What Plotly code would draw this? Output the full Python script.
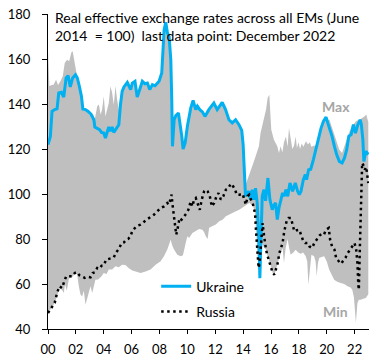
import plotly.graph_objects as go

# ---------------- data (decimal years) ----------------
ukr_t = [2000.00, 2000.17, 2000.29, 2000.48, 2000.65, 2000.77, 2000.96, 2001.13, 2001.30, 2001.44,
         2001.60, 2001.77, 2001.97, 2002.10, 2002.25, 2002.40, 2002.50, 2002.69, 2002.88, 2003.05,
         2003.17, 2003.29, 2003.36, 2003.53, 2003.70, 2003.84, 2004.00, 2004.12, 2004.24, 2004.36,
         2004.48, 2004.60, 2004.72, 2004.89, 2005.08, 2005.20, 2005.32, 2005.45, 2005.69, 2005.93,
         2006.05, 2006.24, 2006.40, 2006.58, 2006.77, 2006.96, 2007.13, 2007.30, 2007.49, 2007.68,
         2007.85, 2007.97, 2008.16, 2008.33, 2008.45, 2008.57, 2008.69, 2008.81, 2008.88, 2008.93,
         2009.05, 2009.17, 2009.36, 2009.45, 2009.60, 2009.69, 2009.84, 2010.00, 2010.12, 2010.24,
         2010.41, 2010.60, 2010.72, 2010.89, 2011.08, 2011.26, 2011.54, 2011.90, 2012.14, 2012.50,
         2012.74, 2012.98, 2013.22, 2013.46, 2013.70, 2013.90, 2014.00, 2014.08, 2014.17, 2014.29,
         2014.41, 2014.53, 2014.65, 2014.77, 2014.89, 2015.01, 2015.13, 2015.20, 2015.37, 2015.49,
         2015.61, 2015.78, 2015.92, 2016.09, 2016.21, 2016.33, 2016.45, 2016.57, 2016.69, 2016.83,
         2016.95, 2017.07, 2017.20, 2017.36, 2017.55, 2017.74, 2017.91, 2018.03, 2018.15, 2018.32,
         2018.46, 2018.55, 2018.70, 2018.85, 2019.04, 2019.23, 2019.42, 2019.59, 2019.76, 2019.95,
         2020.07, 2020.19, 2020.38, 2020.55, 2020.71, 2020.90, 2021.10, 2021.27, 2021.43, 2021.58,
         2021.75, 2021.91, 2022.06, 2022.23, 2022.39, 2022.48, 2022.59, 2022.66, 2022.80, 2022.98]
ukr_v = [122.0, 125.6, 136.7, 137.5, 137.8, 144.9, 145.2, 143.1, 151.6, 152.6,
         147.6, 151.6, 153.0, 151.6, 147.9, 143.4, 137.8, 137.5, 136.7, 135.7,
         134.5, 133.0, 129.8, 129.3, 128.6, 127.4, 127.1, 124.9, 127.9, 129.8,
         127.9, 129.8, 127.4, 129.3, 130.8, 139.7, 145.6, 147.6, 149.6, 146.4,
         149.3, 150.1, 143.1, 146.4, 150.1, 149.0, 149.3, 146.4, 148.6, 148.1,
         149.6, 150.1, 153.8, 173.0, 176.3, 171.6, 169.8, 159.7, 141.9, 121.2,
         133.0, 134.8, 136.0, 132.3, 125.6, 120.0, 122.7, 130.1, 134.5, 138.2,
         141.6, 137.5, 139.0, 137.5, 136.5, 134.5, 137.5, 140.4, 137.5, 140.7,
         137.5, 133.0, 131.6, 133.0, 130.8, 128.3, 122.0, 110.0, 98.9, 100.5,
         101.2, 97.5, 101.9, 97.5, 102.6, 96.0, 79.7, 62.6, 99.0, 101.9,
         97.0, 107.1, 97.5, 93.0, 95.0, 96.0, 88.6, 93.8, 96.7, 100.5,
         99.0, 101.9, 99.0, 104.9, 101.2, 104.9, 101.2, 99.7, 101.2, 106.4,
         108.6, 106.4, 110.8, 111.0, 115.3, 120.4, 124.9, 129.3, 132.3, 134.2,
         131.6, 129.5, 125.6, 121.2, 117.5, 114.5, 113.8, 116.0, 119.7, 125.6,
         126.4, 130.8, 127.1, 130.8, 133.0, 131.0, 124.1, 114.5, 119.0, 117.5]

rus_t = [2000.00, 2000.24, 2000.48, 2000.65, 2000.82, 2001.00, 2001.13, 2001.30, 2001.50, 2001.73,
         2001.92, 2002.09, 2002.25, 2002.45, 2002.64, 2002.85, 2003.05, 2003.21, 2003.36, 2003.53,
         2003.69, 2003.84, 2004.00, 2004.17, 2004.36, 2004.56, 2004.72, 2004.89, 2005.08, 2005.28,
         2005.45, 2005.61, 2005.75, 2005.92, 2006.04, 2006.23, 2006.40, 2006.64, 2006.81, 2007.00,
         2007.18, 2007.36, 2007.60, 2007.84, 2008.08, 2008.32, 2008.56, 2008.68, 2008.80, 2008.87,
         2008.92, 2008.97, 2009.04, 2009.11, 2009.16, 2009.20, 2009.28, 2009.35, 2009.44, 2009.58,
         2009.76, 2009.92, 2010.07, 2010.24, 2010.36, 2010.48, 2010.60, 2010.79, 2010.89, 2011.03,
         2011.20, 2011.32, 2011.45, 2011.61, 2011.75, 2011.92, 2012.09, 2012.23, 2012.40, 2012.58,
         2012.76, 2012.94, 2013.12, 2013.28, 2013.43, 2013.53, 2013.75, 2013.96, 2014.08, 2014.20,
         2014.32, 2014.44, 2014.56, 2014.68, 2014.80, 2014.87, 2014.92, 2014.97, 2015.04, 2015.11,
         2015.18, 2015.28, 2015.35, 2015.40, 2015.46, 2015.52, 2015.64, 2015.76, 2015.88, 2016.00,
         2016.12, 2016.24, 2016.36, 2016.48, 2016.60, 2016.72, 2016.83, 2016.95, 2017.12, 2017.26,
         2017.43, 2017.55, 2017.67, 2017.85, 2018.03, 2018.15, 2018.32, 2018.46, 2018.63, 2018.75,
         2018.94, 2019.11, 2019.28, 2019.47, 2019.66, 2019.80, 2019.95, 2020.14, 2020.24, 2020.38,
         2020.55, 2020.67, 2020.86, 2021.03, 2021.15, 2021.34, 2021.51, 2021.67, 2021.82, 2021.99,
         2022.11, 2022.20, 2022.26, 2022.30, 2022.37, 2022.42, 2022.48, 2022.54, 2022.65, 2022.73,
         2022.83, 2022.90, 2022.98]
rus_v = [47.1, 49.3, 51.6, 56.0, 59.0, 58.2, 60.4, 63.4, 63.4, 63.4,
         64.9, 65.3, 63.9, 63.4, 62.7, 63.2, 63.0, 64.9, 65.2, 67.1,
         66.8, 68.1, 68.3, 70.8, 71.2, 71.6, 71.8, 74.1, 75.5, 78.2,
         78.5, 79.7, 80.0, 81.2, 83.4, 84.9, 85.9, 86.4, 87.1, 88.3,
         88.9, 89.8, 90.8, 92.3, 93.8, 94.5, 96.0, 95.3, 97.5, 99.7,
         96.0, 93.0, 90.1, 87.1, 83.4, 81.9, 84.0, 86.4, 89.3, 88.6,
         89.8, 91.3, 93.0, 96.7, 94.5, 97.5, 98.2, 94.5, 93.0, 97.5,
         101.2, 101.9, 101.2, 99.0, 94.5, 96.0, 99.0, 100.4, 97.5, 99.0,
         101.9, 102.6, 104.6, 103.4, 101.9, 99.7, 99.7, 100.1, 97.5, 95.3,
         99.0, 99.7, 97.5, 96.0, 93.0, 90.1, 84.1, 78.2, 72.3, 67.1,
         69.3, 78.2, 84.1, 87.1, 83.4, 79.7, 75.3, 72.3, 70.1, 67.9,
         64.9, 64.1, 66.4, 69.3, 73.8, 76.4, 78.2, 83.4, 87.9, 89.3,
         89.3, 86.4, 83.4, 83.9, 84.1, 81.9, 79.0, 78.2, 78.2, 76.7,
         76.0, 78.2, 79.7, 81.5, 82.4, 82.0, 84.1, 84.9, 79.7, 76.7,
         75.3, 71.6, 70.1, 69.0, 70.1, 71.6, 73.8, 75.3, 76.7, 78.2,
         75.3, 69.3, 60.0, 57.5, 75.0, 90.1, 101.9, 113.8, 112.5, 110.8,
         112.0, 108.0, 104.9]

max_t = [2000.00, 2000.05, 2000.10, 2000.25, 2000.40, 2000.58, 2000.72, 2000.89, 2001.06, 2001.20,
         2001.37, 2001.52, 2001.68, 2001.77, 2001.87, 2001.98, 2002.09, 2002.21, 2002.40, 2002.57,
         2002.81, 2003.05, 2003.21, 2003.36, 2003.53, 2003.65, 2003.77, 2003.88, 2004.00, 2004.12,
         2004.24, 2004.36, 2004.48, 2004.60, 2004.72, 2004.84, 2004.96, 2005.08, 2005.20, 2005.32,
         2005.45, 2005.69, 2005.93, 2006.05, 2006.24, 2006.40, 2006.58, 2006.77, 2006.96, 2007.13,
         2007.30, 2007.49, 2007.68, 2007.85, 2007.97, 2008.16, 2008.33, 2008.45, 2008.57, 2008.69,
         2008.81, 2008.88, 2008.93, 2009.05, 2009.17, 2009.36, 2009.45, 2009.60, 2009.69, 2009.84,
         2010.00, 2010.12, 2010.24, 2010.41, 2010.60, 2010.72, 2010.89, 2011.08, 2011.26, 2011.54,
         2011.90, 2012.14, 2012.50, 2012.74, 2012.98, 2013.22, 2013.46, 2013.70, 2013.90, 2014.00,
         2014.08, 2014.20, 2014.41, 2014.65, 2014.89, 2015.13, 2015.25, 2015.37, 2015.52, 2015.64,
         2015.76, 2015.88, 2015.95, 2016.02, 2016.21, 2016.33, 2016.45, 2016.57, 2016.69, 2016.81,
         2016.93, 2017.07, 2017.19, 2017.29, 2017.41, 2017.53, 2017.65, 2017.77, 2017.86, 2017.97,
         2018.08, 2018.20, 2018.32, 2018.51, 2018.65, 2018.78, 2018.90, 2019.05, 2019.20, 2019.42,
         2019.59, 2019.76, 2019.95, 2020.07, 2020.19, 2020.43, 2020.67, 2020.90, 2021.10, 2021.25,
         2021.39, 2021.58, 2021.75, 2021.87, 2021.99, 2022.10, 2022.35, 2022.59, 2022.70, 2022.83,
         2022.98]
max_v = [163.4, 150.0, 147.9, 148.5, 148.6, 150.8, 148.5, 150.1, 152.3, 158.2,
         159.7, 159.0, 163.0, 163.4, 159.7, 157.5, 152.3, 147.9, 143.4, 137.5,
         136.7, 134.5, 136.0, 133.3, 139.0, 139.8, 135.3, 137.5, 143.4, 134.5,
         137.5, 140.4, 147.9, 145.0, 139.7, 148.0, 142.0, 137.5, 143.4, 146.4,
         147.6, 149.6, 146.4, 149.3, 150.1, 143.1, 146.4, 150.1, 149.0, 149.3,
         146.4, 148.6, 148.1, 149.6, 150.1, 153.8, 173.0, 176.3, 171.6, 169.8,
         159.7, 141.9, 121.2, 133.0, 134.8, 136.0, 132.3, 125.6, 120.0, 122.7,
         130.1, 134.5, 138.2, 141.6, 137.5, 139.0, 137.5, 136.5, 134.5, 137.5,
         140.4, 137.5, 140.7, 137.5, 133.0, 131.6, 133.0, 130.8, 128.3, 122.0,
         106.0, 104.5, 107.8, 112.3, 116.7, 121.2, 127.1, 130.0, 134.5, 137.5,
         142.7, 144.1, 136.0, 128.6, 124.1, 122.5, 121.2, 118.2, 121.2, 118.5,
         123.0, 125.6, 121.0, 129.3, 124.0, 120.0, 121.5, 125.6, 120.5, 123.0,
         120.0, 122.5, 121.0, 123.5, 122.0, 123.0, 121.0, 121.5, 121.5, 124.9,
         129.3, 132.3, 134.2, 133.0, 133.0, 128.6, 124.1, 119.7, 118.2, 121.0,
         124.1, 127.0, 129.3, 130.8, 131.5, 132.5, 133.0, 133.8, 134.5, 135.3,
         132.0]

min_t = [2000.00, 2000.24, 2000.48, 2000.65, 2000.82, 2001.00, 2001.13, 2001.22, 2001.35, 2001.50,
         2001.73, 2001.92, 2002.09, 2002.21, 2002.33, 2002.45, 2002.57, 2002.69, 2002.81, 2002.93,
         2003.05, 2003.17, 2003.29, 2003.40, 2003.60, 2003.84, 2004.00, 2004.20, 2004.36, 2004.60,
         2004.84, 2005.08, 2005.32, 2005.56, 2005.80, 2006.05, 2006.28, 2006.64, 2007.00, 2007.36,
         2007.72, 2008.08, 2008.32, 2008.56, 2008.80, 2008.92, 2009.04, 2009.28, 2009.52, 2009.68,
         2009.88, 2010.00, 2010.12, 2010.36, 2010.60, 2010.84, 2011.08, 2011.20, 2011.32, 2011.45,
         2011.56, 2011.80, 2012.04, 2012.28, 2012.52, 2012.76, 2013.00, 2013.24, 2013.48, 2013.72,
         2013.96, 2014.08, 2014.20, 2014.44, 2014.68, 2014.80, 2014.87, 2014.92, 2014.97, 2015.04,
         2015.13, 2015.20, 2015.28, 2015.35, 2015.46, 2015.52, 2015.64, 2015.76, 2015.88, 2016.00,
         2016.12, 2016.24, 2016.36, 2016.48, 2016.60, 2016.72, 2016.83, 2016.93, 2017.05, 2017.19,
         2017.30, 2017.41, 2017.60, 2017.77, 2017.95, 2018.13, 2018.30, 2018.49, 2018.60, 2018.68,
         2018.78, 2018.90, 2019.09, 2019.20, 2019.28, 2019.36, 2019.45, 2019.63, 2019.81, 2020.00,
         2020.17, 2020.35, 2020.53, 2020.75, 2021.00, 2021.25, 2021.49, 2021.70, 2021.83, 2021.95,
         2022.00, 2022.09, 2022.20, 2022.30, 2022.44, 2022.62, 2022.80, 2022.98]
min_v = [47.1, 49.3, 51.6, 55.0, 58.0, 57.5, 56.0, 60.0, 57.0, 62.5,
         63.0, 64.5, 64.5, 59.0, 55.3, 54.5, 57.0, 50.8, 54.0, 56.0,
         59.0, 56.0, 59.0, 61.9, 62.0, 63.4, 64.9, 64.5, 66.4, 66.5,
         67.9, 67.5, 68.6, 68.5, 67.0, 66.0, 65.6, 64.9, 65.6, 66.5,
         68.6, 70.1, 72.3, 75.3, 79.7, 77.0, 75.3, 73.0, 72.3, 72.8,
         78.2, 81.2, 80.5, 82.7, 83.4, 84.5, 84.1, 83.0, 81.2, 80.0,
         85.0, 85.6, 86.5, 87.9, 88.6, 90.1, 90.8, 91.6, 92.3, 93.0,
         93.8, 94.5, 95.0, 96.0, 95.0, 93.0, 90.1, 84.1, 78.2, 72.3,
         66.0, 62.6, 75.0, 78.0, 77.0, 76.0, 75.3, 72.3, 70.1, 67.9,
         64.9, 64.1, 66.4, 69.3, 72.0, 74.0, 76.0, 69.5, 76.0, 80.0,
         76.0, 73.0, 74.0, 75.2, 74.0, 73.5, 74.0, 72.3, 70.0, 59.7,
         66.0, 73.0, 72.3, 70.0, 63.4, 69.0, 71.6, 72.0, 72.3, 70.0,
         66.4, 64.0, 61.9, 61.0, 60.4, 60.0, 59.0, 58.5, 57.5, 54.0,
         50.0, 42.8, 51.6, 53.0, 53.0, 53.5, 53.8, 55.5]

tick_years = [2000, 2002, 2004, 2006, 2008, 2010, 2012, 2014, 2016, 2018, 2020, 2022]
tick_labels = ["00", "02", "04", "06", "08", "10", "12", "14", "16", "18", "20", "22"]

title_lines = ["Real effective exchange rates across all EMs (June",
               "2014\u00a0 = 100)\u00a0 last data point: December 2022"]

# ---------------- figure ----------------
FONT = "Lato"
fig = go.Figure()

# grey min-max band
fig.add_trace(go.Scatter(
    x=max_t + min_t[::-1], y=max_v + min_v[::-1],
    fill="toself", fillcolor="#BFBFBF", line=dict(width=0),
    mode="lines", hoverinfo="skip", showlegend=False))

fig.add_trace(go.Scatter(
    x=ukr_t, y=ukr_v, mode="lines", name="Ukraine",
    line=dict(color="#00B0F0", width=3), legendgroup="u"))

fig.add_trace(go.Scatter(
    x=rus_t, y=rus_v, mode="lines", name="Russia",
    line=dict(color="black", width=2.5, dash="2.5px,3.5px"), legendgroup="r"))

fig.update_layout(
    width=384, height=360,
    margin=dict(l=48, r=15, t=14, b=31, autoexpand=False),
    paper_bgcolor="white", plot_bgcolor="white",
    font=dict(family=FONT, size=13, color="black"),
    showlegend=True,
    legend=dict(x=0.337, y=0.095, xanchor="left", yanchor="middle",
                bgcolor="rgba(0,0,0,0)", font=dict(family=FONT, size=14, color="black"),
                tracegroupgap=4, itemwidth=30),
    xaxis=dict(range=[2000, 2023.03], tickvals=tick_years, ticktext=tick_labels,
               automargin=False,
               showgrid=False, zeroline=False, showline=True, linecolor="black", linewidth=1,
               ticks="outside", ticklen=4, tickcolor="black",
               tickfont=dict(family=FONT, size=13, color="black"), ticklabelstandoff=4),
    yaxis=dict(range=[40, 180], dtick=20, showgrid=False, zeroline=False,
               automargin=False,
               showline=True, linecolor="black", linewidth=1,
               ticks="outside", ticklen=5, tickcolor="black",
               tickfont=dict(family=FONT, size=13, color="black"), ticklabelstandoff=9),
)

fig.add_annotation(x=0.016, y=1.023, xref="paper", yref="paper",
                   text="<br>".join(title_lines), align="left",
                   showarrow=False, xanchor="left", yanchor="top",
                   font=dict(family=FONT, size=14, color="black"))
fig.add_annotation(x=0.897, y=0.705, xref="paper", yref="paper", text="<b>Max</b>",
                   showarrow=False, xanchor="center", yanchor="middle",
                   font=dict(family=FONT, size=14, color="#A6A6A6"))
fig.add_annotation(x=0.897, y=0.057, xref="paper", yref="paper", text="<b>Min</b>",
                   showarrow=False, xanchor="center", yanchor="middle",
                   font=dict(family=FONT, size=14, color="#A6A6A6"))

fig.write_html("out.html", config={"displayModeBar": False},
               post_script="document.body.style.margin='0';")
